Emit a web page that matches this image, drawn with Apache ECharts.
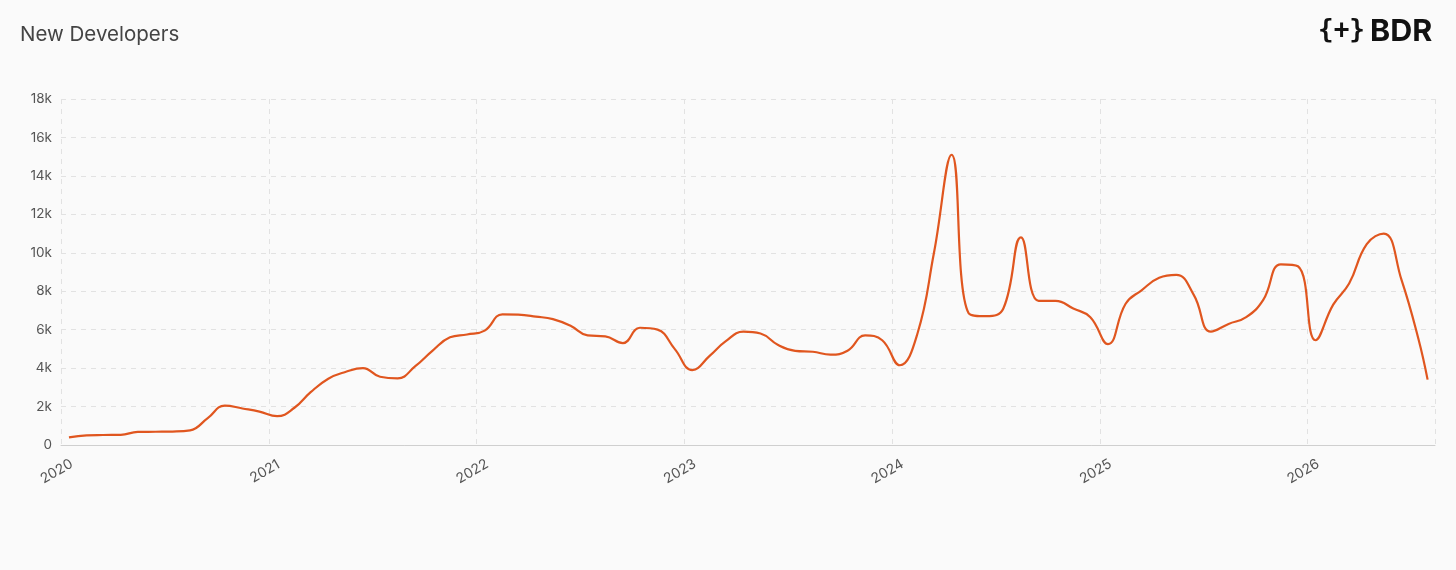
<!DOCTYPE html>
<html>
<head>
<meta charset="utf-8">
<script src="https://cdn.jsdelivr.net/npm/echarts@6/dist/echarts.min.js"></script>
<style>
  html, body { margin: 0; padding: 0; background: #fafafa; }
  #mychart { width: 1456px; height: 570px; }
</style>
</head>
<body>
<div id="mychart"></div>
<script>
// monthly points (mid month), last one is the partial end of July 2026
var months = [
  '2020-01-15','2020-02-15','2020-03-15','2020-04-15','2020-05-15','2020-06-15','2020-07-15','2020-08-15','2020-09-15','2020-10-15','2020-11-15','2020-12-15',
  '2021-01-15','2021-02-15','2021-03-15','2021-04-15','2021-05-15','2021-06-15','2021-07-15','2021-08-15','2021-09-15','2021-10-15','2021-11-15','2021-12-15',
  '2022-01-15','2022-02-15','2022-03-15','2022-04-15','2022-05-15','2022-06-15','2022-07-15','2022-08-15','2022-09-15','2022-10-15','2022-11-15','2022-12-15',
  '2023-01-15','2023-02-15','2023-03-15','2023-04-15','2023-05-15','2023-06-15','2023-07-15','2023-08-15','2023-09-15','2023-10-15','2023-11-15','2023-12-15',
  '2024-01-15','2024-02-15','2024-03-15','2024-04-15','2024-05-15','2024-06-15','2024-07-15','2024-08-15','2024-09-15','2024-10-15','2024-11-15','2024-12-15',
  '2025-01-15','2025-02-15','2025-03-15','2025-04-15','2025-05-15','2025-06-15','2025-07-15','2025-08-15','2025-09-15','2025-10-15','2025-11-15','2025-12-15',
  '2026-01-15','2026-02-15','2026-03-15','2026-04-15','2026-05-15','2026-06-15','2026-07-15','2026-07-31'
];
var newDevelopers = [
  400, 500, 520, 530, 680, 690, 700, 760, 1400, 2050, 1900, 1740,
  1500, 1950, 2750, 3450, 3800, 4000, 3550, 3470, 4100, 4900, 5600, 5750,
  5950, 6800, 6780, 6680, 6550, 6200, 5700, 5650, 5300, 6100, 6000, 5000,
  3900, 4650, 5400, 5900, 5800, 5200, 4900, 4850, 4700, 4900, 5700, 5450,
  4150, 5800, 10000, 15100, 6850, 6700, 7100, 10800, 7500, 7500, 7100, 6650,
  5250, 7350, 8050, 8700, 8850, 7800, 5900, 6300, 6650, 7550, 9400, 9300,
  5450, 7300, 8400, 10450, 11000, 8600, 5500, 3400
];
var yTicks = [0, 2000, 4000, 6000, 8000, 10000, 12000, 14000, 16000, 18000];

var myChart = echarts.init(document.getElementById('mychart'));
var seriesData = [];
for (var i = 0; i < months.length; i++) {
    seriesData.push([months[i], newDevelopers[i]]);
}
var fontFamily = 'Inter, "Noto Sans", sans-serif';

var option = {
    backgroundColor: '#fafafa',
    animation: false,
    title: {
        text: 'New Developers',
        left: 15,
        top: 19,
        textStyle: {
            fontFamily: fontFamily,
            fontSize: 20.5,
            fontWeight: 'normal',
            color: '#444'
        }
    },
    graphic: [
        {
            type: 'text',
            left: 1318,
            top: 18,
            style: {
                text: '{+}',
                font: 'bold 26px "DejaVu Sans Mono"',
                fill: '#111'
            }
        },
        {
            type: 'text',
            left: 1370,
            top: 16,
            style: {
                text: 'BDR',
                font: 'bold 30.5px ' + fontFamily,
                fill: '#111'
            }
        }
    ],
    grid: {
        left: 61,
        right: 21,
        top: 99,
        bottom: 125
    },
    xAxis: {
        type: 'time',
        min: '2020-01-01',
        max: '2026-08-13',
        minInterval: 365 * 24 * 3600 * 1000,
        axisLine: { show: true, lineStyle: { color: '#cfcfcf', width: 1 } },
        axisTick: { show: false },
        axisLabel: {
            rotate: 30,
            margin: 24,
            align: 'center',
            verticalAlign: 'middle',
            padding: [0, 10, 0, 0],
            fontFamily: fontFamily,
            fontSize: 14,
            color: '#555',
            showMaxLabel: false,
            formatter: '{yyyy}'
        },
        splitLine: {
            show: true,
            lineStyle: { color: '#e2e2e2', type: [5, 5], width: 1 }
        }
    },
    yAxis: {
        type: 'value',
        min: yTicks[0],
        max: yTicks[yTicks.length - 1],
        interval: 2000,
        axisLine: { show: false },
        axisTick: { show: false },
        axisLabel: {
            margin: 9,
            fontFamily: fontFamily,
            fontSize: 13.5,
            color: '#555',
            formatter: function (v) {
                return v === 0 ? '0' : (v / 1000) + 'k';
            }
        },
        splitLine: {
            lineStyle: { color: '#e2e2e2', type: [5, 5], width: 1 }
        }
    },
    series: [
        {
            name: 'New Developers',
            type: 'line',
            data: seriesData,
            smooth: 0.45,
            showSymbol: false,
            lineStyle: { color: '#e0561f', width: 2.2 },
            itemStyle: { color: '#e0561f' }
        }
    ]
};
myChart.setOption(option, true);
</script>
</body>
</html>
